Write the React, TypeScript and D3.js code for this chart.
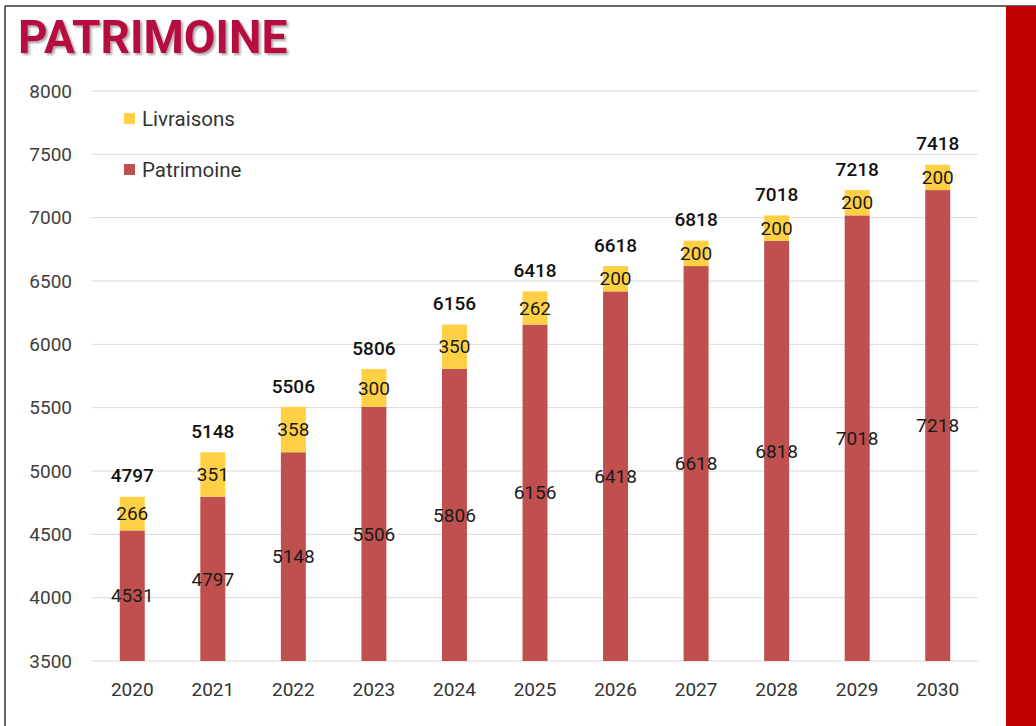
import React from 'react';
import * as d3 from 'd3';

const years = ['2020', '2021', '2022', '2023', '2024', '2025', '2026', '2027', '2028', '2029', '2030'];
const patrimoine = [4531, 4797, 5148, 5506, 5806, 6156, 6418, 6618, 6818, 7018, 7218];
const livraisons = [266, 351, 358, 300, 350, 262, 200, 200, 200, 200, 200];
const yTicks = [3500, 4000, 4500, 5000, 5500, 6000, 6500, 7000, 7500, 8000];

const W = 1036, H = 726;
const font = 'Roboto, "DejaVu Sans", sans-serif';
const redBar = '#C0504D';
const yellowBar = '#FFD043';

export default function App() {
  const x = d3.scaleBand()
    .domain(years)
    .range([92, 978])
    .paddingInner(0.69)
    .paddingOuter(0.345);
  const y = d3.scaleLinear().domain([3500, 8000]).range([661, 91]);

  const rows = years.map((yr, i) => ({
    yr,
    p: patrimoine[i],
    l: livraisons[i],
    total: patrimoine[i] + livraisons[i],
  }));

  return (
    <svg width={W} height={H} style={{ position: 'absolute', left: 0, top: 0 }}>
      <defs>
        <filter id="shadow" x="-5%" y="-20%" width="110%" height="150%">
          <feDropShadow dx="2" dy="2" stdDeviation="1.2" floodColor="#000" floodOpacity="0.35" />
        </filter>
      </defs>
      <rect x={0} y={0} width={W} height={H} fill="#fff" />
      {/* frame */}
      <line x1={5} x2={W} y1={6} y2={6} stroke="#333" strokeWidth={1.5} />
      <line x1={5} x2={5} y1={6} y2={H} stroke="#333" strokeWidth={1.5} />
      <rect x={1006} y={6} width={30} height={H - 6} fill="#C00000" />

      <text x={18} y={53} fontFamily={font} fontWeight={700} fontSize={46} fill="#B5103C"
        filter="url(#shadow)">PATRIMOINE</text>

      {/* grid + y axis */}
      {yTicks.map(t => (
        <g key={t}>
          <line x1={92} x2={978} y1={y(t)} y2={y(t)} stroke="#d9d9d9" strokeWidth={1} />
          <text x={72} y={y(t)} dy="0.35em" textAnchor="end" fontFamily={font} fontSize={19} fill="#404040">{t}</text>
        </g>
      ))}

      {/* bars */}
      {rows.map(d => {
        const bx = x(d.yr)!;
        const bw = x.bandwidth();
        const cx = bx + bw / 2;
        return (
          <g key={d.yr}>
            <rect x={bx} y={y(d.p)} width={bw} height={y(3500) - y(d.p)} fill={redBar} />
            <rect x={bx} y={y(d.total)} width={bw} height={y(d.p) - y(d.total)} fill={yellowBar} />
            <text x={cx} y={(y(d.p) + y(3500)) / 2} dy="0.35em" textAnchor="middle" fontFamily={font} fontSize={19} fill="#1a1a1a">{d.p}</text>
            <text x={cx} y={(y(d.p) + y(d.total)) / 2} dy="0.35em" textAnchor="middle" fontFamily={font} fontSize={19} fill="#1a1a1a">{d.l}</text>
            <text x={cx} y={y(d.total) - 21} dy="0.35em" textAnchor="middle" fontFamily={font} fontWeight={500} fontSize={19} fill="#111">{d.total}</text>
            <text x={cx} y={689} dy="0.35em" textAnchor="middle" fontFamily={font} fontSize={19} fill="#333">{d.yr}</text>
          </g>
        );
      })}

      {/* legend */}
      <rect x={124} y={113} width={11} height={11} fill={yellowBar} />
      <text x={142} y={118.5} dy="0.35em" fontFamily={font} fontSize={20.5} fill="#333">Livraisons</text>
      <rect x={124} y={164} width={11} height={11} fill={redBar} />
      <text x={142} y={169.5} dy="0.35em" fontFamily={font} fontSize={20.5} fill="#333">Patrimoine</text>
    </svg>
  );
}
